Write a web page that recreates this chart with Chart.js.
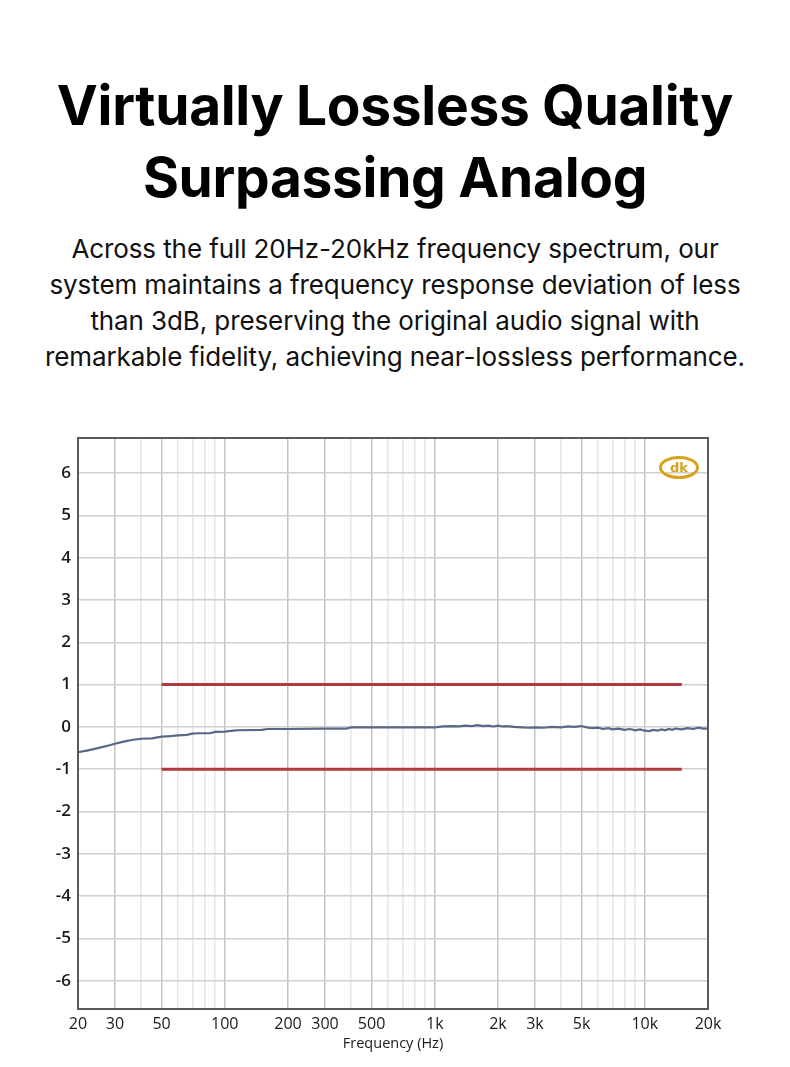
<!DOCTYPE html>
<html>
<head>
<meta charset="utf-8">
<script src="https://cdn.jsdelivr.net/npm/chart.js@4"></script>
<style>
  html, body { margin: 0; padding: 0; background: #fff; }
  body { width: 790px; height: 1067px; position: relative; overflow: hidden; font-family: Inter, "Noto Sans", sans-serif; }
  h1 { position: absolute; top: 69px; left: 0; width: 790px; margin: 0; text-align: center;
       font-size: 55px; line-height: 72px; font-weight: 700; color: #000; letter-spacing: -0.3px; }
  .desc { position: absolute; top: 231px; left: 0; width: 790px; margin: 0; text-align: center;
          font-size: 26px; line-height: 36px; color: #111; font-weight: 400; letter-spacing: -0.1px; }
  #wrap { position: absolute; left: 0; top: 420px; width: 790px; height: 647px; }
  .logo { position: absolute; left: 659px; top: 456px; width: 34px; height: 17px; border: 3px solid #d9a21b;
          border-radius: 50%; font: bold 13px "DejaVu Sans", sans-serif; color: #d9a21b; text-align: center;
          line-height: 17px; box-sizing: content-box; }
</style>
</head>
<body>
<h1>Virtually Lossless Quality<br>Surpassing Analog</h1>
<p class="desc">Across the full 20Hz-20kHz frequency spectrum, our<br>system maintains a frequency response deviation of less<br>than 3dB, preserving the original audio signal with<br>remarkable fidelity, achieving near-lossless performance.</p>
<div id="wrap"><canvas id="fr"></canvas></div>
<div class="logo">dk</div>
<script>
const freqs = [20, 22, 24, 26, 28, 30, 33, 36, 40, 45, 50, 55, 60, 66, 70, 75, 85, 90, 100, 110, 115, 150, 160, 200, 300, 380, 400, 600, 1000,
  1100, 1200, 1300, 1400, 1500, 1600, 1700, 1800, 1900, 2000, 2100, 2200, 2400, 2600, 2800, 3000, 3300, 3600, 4000, 4300, 4600, 5000,
  5300, 5600, 6000, 6300, 6700, 7000, 7500, 8000, 8500, 9000, 9500, 10000, 10500, 11000, 11500, 12000, 12500, 13000, 13500, 14000,
  15000, 16000, 17000, 18000, 19000, 20000];
const response = [-0.60, -0.56, -0.52, -0.48, -0.44, -0.40, -0.35, -0.31, -0.28, -0.27, -0.23, -0.22, -0.20, -0.19, -0.16, -0.15, -0.15, -0.12, -0.11, -0.09, -0.08, -0.07, -0.05, -0.05, -0.04, -0.04, -0.01, -0.01, -0.01,
  0.01, 0.02, 0.01, 0.03, 0.02, 0.04, 0.02, 0.03, 0.01, 0.03, 0.01, 0.02, 0.00, -0.01, -0.02, -0.01, -0.02, 0.00, -0.01, 0.01, 0.00, 0.02,
  -0.01, -0.03, -0.02, -0.05, -0.03, -0.06, -0.04, -0.07, -0.05, -0.08, -0.06, -0.09, -0.10, -0.07, -0.09, -0.06, -0.08, -0.05, -0.07, -0.04,
  -0.06, -0.03, -0.05, -0.02, -0.04, -0.04];

// +/-1 dB tolerance lines
const limitFreqs = [50, 15000];
const upperLimit = [1, 1];
const lowerLimit = [-1, -1];

const gridFreqs = [20, 30, 40, 50, 60, 70, 80, 90, 100, 200, 300, 400, 500, 600, 700, 800, 900, 1000,
  2000, 3000, 4000, 5000, 6000, 7000, 8000, 9000, 10000, 20000];
const labelFreqs = [20, 30, 50, 100, 200, 300, 500, 1000, 2000, 3000, 5000, 10000, 20000];
const yTicks = [-6, -5, -4, -3, -2, -1, 0, 1, 2, 3, 4, 5, 6];

const toPts = (xs, ys) => xs.map((x, i) => ({ x: x, y: ys[i] }));
const fmtFreq = v => v >= 1000 ? (v / 1000) + 'k' : String(v);

const frame = {
  id: 'frame',
  afterDraw(chart) {
    const a = chart.chartArea, c = chart.ctx;
    c.save();
    c.strokeStyle = '#5a5a5a';
    c.lineWidth = 2;
    c.strokeRect(a.left, a.top, a.right - a.left, a.bottom - a.top);
    c.restore();
  }
};

new Chart(document.getElementById('fr'), {
  type: 'line',
  data: {
    datasets: [
      { data: toPts(limitFreqs, upperLimit), borderColor: '#b23a3e', borderWidth: 3, pointRadius: 0 },
      { data: toPts(limitFreqs, lowerLimit), borderColor: '#b23a3e', borderWidth: 3, pointRadius: 0 },
      { data: toPts(freqs, response), borderColor: '#56698a', borderWidth: 2.2, pointRadius: 0, tension: 0 }
    ]
  },
  plugins: [frame],
  options: {
    responsive: true,
    maintainAspectRatio: false,
    animation: false,
    layout: { padding: { top: 18, right: 82, left: 0, bottom: 14 } },
    plugins: { legend: { display: false }, tooltip: { enabled: false } },
    scales: {
      x: {
        type: 'logarithmic',
        min: 20,
        max: 20000,
        afterBuildTicks: s => { s.ticks = gridFreqs.map(v => ({ value: v })); },
        afterFit: s => { s.height = 44; },
        grid: {
          color: ctx => labelFreqs.includes(ctx.tick.value) ? '#c4c4c4' : '#e6e6e6',
          lineWidth: 1.5,
          drawTicks: false
        },
        border: { display: false },
        ticks: {
          autoSkip: false,
          maxRotation: 0,
          padding: 6,
          color: '#1a1a1a',
          font: { family: '"Open Sans", sans-serif', size: 16 },
          callback: v => labelFreqs.includes(v) ? fmtFreq(v) : ''
        },
        title: { display: true, text: 'Frequency (Hz)', color: '#1a1a1a', padding: 0,
                 font: { family: '"Open Sans", sans-serif', size: 14.5 } }
      },
      y: {
        min: -6.67,
        max: 6.83,
        afterBuildTicks: s => { s.ticks = yTicks.map(v => ({ value: v })); },
        afterFit: s => { s.width = 78; },
        grid: { color: '#cfcfcf', lineWidth: 1.5, drawTicks: false },
        border: { display: false },
        ticks: {
          padding: 7,
          color: '#1a1a1a',
          font: { family: '"Open Sans", sans-serif', size: 17, weight: '600' }
        }
      }
    }
  }
});
</script>
</body>
</html>
